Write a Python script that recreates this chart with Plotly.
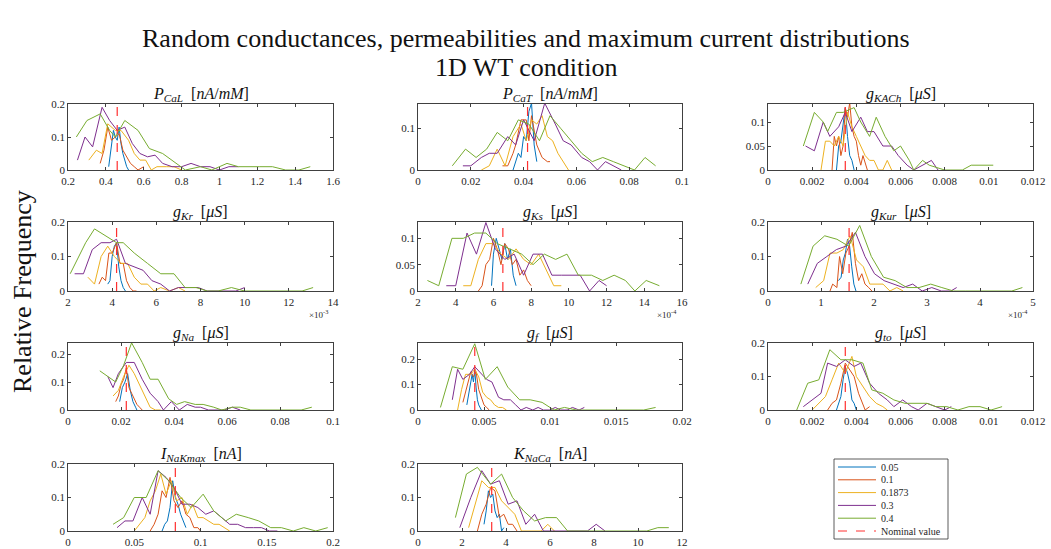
import plotly.graph_objects as go

SERIES = ["0.05", "0.1", "0.1873", "0.3", "0.4"]
COLORS = ["#0072BD", "#D95319", "#EDB120", "#7E2F8E", "#77AC30"]
NOMINAL_COLOR = "#FF3030"
NOMINAL_LABEL = "Nominal value"

TITLES = [
    "<i>P</i><sub><i>CaL</i></sub>  [<i>nA</i>/<i>mM</i>]",
    "<i>P</i><sub><i>CaT</i></sub>  [<i>nA</i>/<i>mM</i>]",
    "<i>g</i><sub><i>KACh</i></sub>  [<i>μS</i>]",
    "<i>g</i><sub><i>Kr</i></sub>  [<i>μS</i>]",
    "<i>g</i><sub><i>Ks</i></sub>  [<i>μS</i>]",
    "<i>g</i><sub><i>Kur</i></sub>  [<i>μS</i>]",
    "<i>g</i><sub><i>Na</i></sub>  [<i>μS</i>]",
    "<i>g</i><sub><i>f</i></sub>  [<i>μS</i>]",
    "<i>g</i><sub><i>to</i></sub>  [<i>μS</i>]",
    "<i>I</i><sub><i>NaKmax</i></sub>  [<i>nA</i>]",
    "<i>K</i><sub><i>NaCa</i></sub>  [<i>nA</i>]",
]
NOMINAL = [0.46, 0.0415, 0.0035, 4.2, 6.5, 1.53, 0.022, 0.0043, 0.0035, 0.081, 3.35]
X_RANGE = [[0.2, 1.6], [0, 0.1], [0, 0.012], [2, 14], [2, 16], [0, 5],
           [0, 0.1], [0, 0.02], [0, 0.012], [0, 0.2], [0, 12]]
X_DTICK = [0.2, 0.02, 0.002, 2, 2, 1, 0.02, 0.005, 0.002, 0.05, 2]
Y_MAX = [0.2, 0.158, 0.1375, 0.2, 0.131, 0.2, 0.2395, 0.263, 0.2, 0.2, 0.2]
Y_DTICK = [0.1, 0.1, 0.05, 0.1, 0.05, 0.1, 0.1, 0.1, 0.1, 0.1, 0.1]
EXPONENT = [None, None, None, "-3", "-4", "-4", None, None, None, None, None]

# ---- P_CaL
PCAL_X = [
    [0.415, 0.43, 0.44, 0.45, 0.46, 0.47, 0.48, 0.49, 0.50, 0.51, 0.52],
    [0.37, 0.39, 0.41, 0.43, 0.45, 0.47, 0.49, 0.51, 0.53, 0.55, 0.57, 0.60],
    [0.31, 0.35, 0.38, 0.41, 0.45, 0.48, 0.52, 0.55, 0.58, 0.61, 0.64, 0.67, 0.72, 0.76, 0.80],
    [0.25, 0.29, 0.33, 0.38, 0.42, 0.46, 0.50, 0.54, 0.58, 0.62, 0.66, 0.70, 0.75, 0.80, 0.85, 0.90, 0.95, 1.0, 1.05, 1.10],
    [0.244, 0.30, 0.37, 0.42, 0.45, 0.50, 0.57, 0.63, 0.70, 0.77, 0.82, 0.90, 0.96, 1.04, 1.10, 1.21, 1.28, 1.35, 1.42, 1.48],
]
PCAL_Y = [
    [0.01, 0.08, 0.12, 0.10, 0.09, 0.13, 0.08, 0.05, 0.03, 0.01, 0.0],
    [0.02, 0.06, 0.13, 0.09, 0.10, 0.11, 0.06, 0.04, 0.02, 0.01, 0.0, 0.01],
    [0.03, 0.06, 0.05, 0.14, 0.12, 0.12, 0.09, 0.05, 0.03, 0.03, 0.0, 0.01, 0.01, 0.01, 0.0],
    [0.03, 0.10, 0.07, 0.19, 0.15, 0.12, 0.13, 0.08, 0.05, 0.04, 0.045, 0.02, 0.01, 0.01, 0.02, 0.01, 0.01, 0.0, 0.01, 0.01],
    [0.10, 0.15, 0.17, 0.12, 0.10, 0.15, 0.12, 0.065, 0.05, 0.02, 0.0, 0.01, 0.0, 0.02, 0.01, 0.01, 0.01, 0.0, 0.0, 0.01],
]

# ---- P_CaT
PCAT_X = [
    [0.036, 0.037, 0.038, 0.039, 0.040, 0.041, 0.042, 0.043, 0.044, 0.045],
    [0.032, 0.034, 0.036, 0.037, 0.039, 0.041, 0.042, 0.043, 0.045, 0.047, 0.049, 0.050],
    [0.024, 0.027, 0.030, 0.033, 0.036, 0.039, 0.041, 0.043, 0.045, 0.047, 0.049, 0.051, 0.053, 0.055, 0.057],
    [0.017, 0.020, 0.024, 0.027, 0.030, 0.034, 0.037, 0.040, 0.044, 0.048, 0.052, 0.055, 0.058, 0.062, 0.065, 0.068, 0.071, 0.074, 0.077],
    [0.013, 0.018, 0.022, 0.026, 0.030, 0.034, 0.038, 0.042, 0.046, 0.050, 0.054, 0.058, 0.062, 0.066, 0.070, 0.074, 0.078, 0.082, 0.086, 0.090],
]
PCAT_Y = [
    [0.0, 0.02, 0.04, 0.03, 0.08, 0.07, 0.14, 0.16, 0.06, 0.02],
    [0.01, 0.01, 0.04, 0.06, 0.12, 0.12, 0.07, 0.13, 0.06, 0.03, 0.02, 0.02],
    [0.0, 0.01, 0.05, 0.01, 0.08, 0.11, 0.07, 0.12, 0.11, 0.13, 0.08, 0.07, 0.04, 0.02, 0.0],
    [0.01, 0.01, 0.03, 0.04, 0.04, 0.08, 0.06, 0.12, 0.07, 0.16, 0.11, 0.07, 0.06, 0.03, 0.02, 0.0, 0.02, 0.01, 0.0],
    [0.01, 0.05, 0.03, 0.05, 0.09, 0.07, 0.12, 0.11, 0.07, 0.13, 0.10, 0.07, 0.04, 0.02, 0.03, 0.02, 0.01, 0.0, 0.03, 0.01],
]

# ---- g_KACh
GKACH_X = [
    [0.0031, 0.0032, 0.0033, 0.0034, 0.0035, 0.0036, 0.0037, 0.0038, 0.0039],
    [0.0029, 0.0030, 0.0031, 0.0032, 0.0033, 0.0034, 0.0035, 0.0036, 0.0037, 0.0038, 0.0039, 0.0040, 0.0041, 0.0042, 0.0043, 0.0045],
    [0.0024, 0.0026, 0.0028, 0.0030, 0.0032, 0.0034, 0.0036, 0.0038, 0.0040, 0.0042, 0.0044, 0.0046, 0.0048, 0.0050, 0.0052, 0.0054, 0.0056],
    [0.0017, 0.0021, 0.0025, 0.0028, 0.0032, 0.0035, 0.0038, 0.0042, 0.0045, 0.0048, 0.0052, 0.0056, 0.0059, 0.0063, 0.0066, 0.0070, 0.0074, 0.0077],
    [0.0016, 0.0021, 0.0025, 0.0027, 0.0031, 0.0034, 0.0039, 0.0042, 0.0046, 0.0049, 0.0053, 0.0057, 0.0060, 0.0064, 0.0066, 0.0070, 0.0073, 0.0080, 0.0088, 0.0092, 0.0102],
]
GKACH_Y = [
    [0.0, 0.05, 0.06, 0.09, 0.13, 0.07, 0.03, 0.02, 0.0],
    [0.0, 0.07, 0.05, 0.07, 0.03, 0.05, 0.13, 0.11, 0.14, 0.09, 0.07, 0.06, 0.03, 0.01, 0.03, 0.0],
    [0.0, 0.06, 0.06, 0.05, 0.07, 0.05, 0.12, 0.09, 0.07, 0.05, 0.03, 0.02, 0.02, 0.0, 0.0, 0.02, 0.0],
    [0.05, 0.04, 0.10, 0.07, 0.09, 0.12, 0.08, 0.11, 0.08, 0.08, 0.05, 0.05, 0.03, 0.01, 0.0, 0.01, 0.02, 0.0],
    [0.05, 0.12, 0.10, 0.08, 0.12, 0.12, 0.13, 0.10, 0.07, 0.11, 0.07, 0.04, 0.05, 0.02, 0.0, 0.02, 0.01, 0.0, 0.0, 0.01, 0.01],
]

# ---- g_Kr (x 1e-3)
GKR_X = [
    [3.8, 3.9, 4.0, 4.1, 4.2, 4.3, 4.4, 4.5, 4.6],
    [3.4, 3.55, 3.7, 3.85, 4.0, 4.2, 4.35, 4.5, 4.65, 4.8, 4.95, 5.1],
    [2.9, 3.2, 3.5, 3.8, 4.1, 4.4, 4.7, 5.0, 5.3, 5.6, 5.9, 6.2, 6.6, 7.0, 7.3],
    [2.3, 2.7, 3.1, 3.5, 3.9, 4.2, 4.6, 5.0, 5.4, 5.8, 6.2, 6.6, 7.0, 7.4, 7.9, 8.3, 8.8, 9.2, 9.6, 10.0],
    [2.1, 2.8, 3.2, 3.7, 4.2, 4.5, 5.0, 5.6, 6.2, 6.8, 7.3, 7.8, 8.3, 8.8, 9.4, 10.0, 10.5, 11.0, 11.6, 12.2, 12.6, 13.1],
]
GKR_Y = [
    [0.02, 0.03, 0.10, 0.13, 0.14, 0.07, 0.03, 0.01, 0.0],
    [0.02, 0.04, 0.03, 0.11, 0.11, 0.14, 0.08, 0.08, 0.03, 0.01, 0.0, 0.0],
    [0.04, 0.02, 0.10, 0.13, 0.10, 0.08, 0.08, 0.04, 0.02, 0.02, 0.0, 0.01, 0.0, 0.01, 0.0],
    [0.05, 0.05, 0.12, 0.14, 0.14, 0.15, 0.08, 0.07, 0.06, 0.03, 0.02, 0.0, 0.01, 0.01, 0.01, 0.0, 0.0, 0.0, 0.0, 0.01],
    [0.05, 0.14, 0.18, 0.16, 0.14, 0.14, 0.11, 0.08, 0.05, 0.05, 0.01, 0.01, 0.0, 0.0, 0.01, 0.0, 0.0, 0.0, 0.0, 0.0, 0.0, 0.01],
]

# ---- g_Ks (x 1e-4)
GKS_X = [
    [5.9, 6.0, 6.15, 6.3, 6.45, 6.6, 6.75, 6.9, 7.05, 7.2],
    [5.2, 5.4, 5.6, 5.8, 6.0, 6.2, 6.4, 6.6, 6.8, 7.0, 7.2, 7.4, 7.6, 7.8, 8.0],
    [4.4, 4.8, 5.2, 5.6, 6.0, 6.4, 6.8, 7.2, 7.6, 8.0, 8.4, 8.8, 9.2, 9.6],
    [3.5, 4.0, 4.6, 5.1, 5.6, 6.1, 6.6, 7.1, 7.6, 8.1, 8.6, 9.1, 9.6, 10.1, 10.6, 11.1, 11.6, 12.0],
    [2.5, 3.1, 3.8, 4.4, 5.0, 5.6, 6.2, 6.9, 7.5, 8.1, 8.7, 9.3, 9.9, 10.5, 11.2, 11.8, 12.4, 13.0, 13.5, 14.1, 14.8],
]
GKS_Y = [
    [0.01, 0.07, 0.10, 0.08, 0.06, 0.09, 0.06, 0.08, 0.03, 0.01],
    [0.0, 0.01, 0.05, 0.06, 0.10, 0.08, 0.05, 0.09, 0.08, 0.05, 0.06, 0.03, 0.04, 0.02, 0.01],
    [0.01, 0.01, 0.06, 0.09, 0.09, 0.07, 0.06, 0.08, 0.06, 0.05, 0.07, 0.04, 0.01, 0.01],
    [0.01, 0.01, 0.11, 0.07, 0.13, 0.08, 0.06, 0.07, 0.03, 0.07, 0.07, 0.03, 0.03, 0.03, 0.03, 0.0, 0.02, 0.01],
    [0.02, 0.01, 0.10, 0.10, 0.11, 0.11, 0.09, 0.08, 0.07, 0.05, 0.07, 0.06, 0.07, 0.03, 0.03, 0.02, 0.03, 0.02, 0.0, 0.02, 0.01],
]

# ---- g_Kur (x 1e-4)
GKUR_X = [
    [1.33, 1.38, 1.42, 1.46, 1.50, 1.54, 1.58, 1.62, 1.66],
    [1.17, 1.22, 1.30, 1.35, 1.41, 1.47, 1.53, 1.59, 1.65, 1.71, 1.77, 1.83, 1.90, 1.96],
    [0.90, 1.05, 1.17, 1.30, 1.42, 1.55, 1.67, 1.80, 1.92, 2.05, 2.17, 2.30, 2.43, 2.55],
    [0.75, 0.93, 1.11, 1.29, 1.47, 1.65, 1.83, 2.01, 2.19, 2.37, 2.55, 2.73, 2.91, 3.09, 3.27, 3.45, 3.56],
    [0.62, 0.85, 1.07, 1.30, 1.52, 1.73, 1.95, 2.18, 2.40, 2.62, 2.85, 3.07, 3.28, 3.50, 3.72, 3.95, 4.15, 4.38, 4.60, 4.80],
]
GKUR_Y = [
    [0.03, 0.04, 0.09, 0.11, 0.15, 0.13, 0.07, 0.02, 0.0],
    [0.0, 0.02, 0.01, 0.10, 0.05, 0.11, 0.13, 0.17, 0.08, 0.03, 0.05, 0.02, 0.01, 0.0],
    [0.01, 0.03, 0.11, 0.11, 0.12, 0.16, 0.09, 0.07, 0.02, 0.02, 0.02, 0.0, 0.01, 0.0],
    [0.02, 0.08, 0.10, 0.12, 0.13, 0.17, 0.10, 0.05, 0.03, 0.02, 0.01, 0.02, 0.0, 0.01, 0.0, 0.0, 0.01],
    [0.02, 0.13, 0.16, 0.15, 0.13, 0.19, 0.10, 0.04, 0.03, 0.01, 0.01, 0.02, 0.01, 0.0, 0.0, 0.0, 0.0, 0.0, 0.0, 0.01],
]

# ---- g_Na
GNA_X = [
    [0.0195, 0.0205, 0.0215, 0.0225, 0.0235, 0.0245, 0.0255, 0.026],
    [0.018, 0.019, 0.020, 0.021, 0.022, 0.023, 0.024, 0.025, 0.026, 0.027, 0.028],
    [0.017, 0.019, 0.021, 0.023, 0.025, 0.027, 0.029, 0.031, 0.033, 0.035],
    [0.015, 0.017, 0.019, 0.022, 0.025, 0.028, 0.031, 0.034, 0.036, 0.039, 0.042, 0.045, 0.048, 0.050, 0.053, 0.056, 0.059, 0.062, 0.065],
    [0.012, 0.015, 0.018, 0.021, 0.024, 0.028, 0.031, 0.034, 0.038, 0.041, 0.044, 0.048, 0.051, 0.055, 0.058, 0.062, 0.065, 0.069, 0.075, 0.081, 0.088, 0.092],
]
GNA_Y = [
    [0.03, 0.08, 0.10, 0.13, 0.07, 0.03, 0.01, 0.0],
    [0.03, 0.05, 0.09, 0.11, 0.15, 0.08, 0.06, 0.04, 0.02, 0.01, 0.0],
    [0.05, 0.07, 0.12, 0.16, 0.13, 0.09, 0.05, 0.01, 0.0, 0.0],
    [0.12, 0.08, 0.13, 0.17, 0.17, 0.11, 0.06, 0.03, 0.0, 0.03, 0.0, 0.02, 0.01, 0.01, 0.0, 0.0, 0.0, 0.01, 0.0],
    [0.14, 0.12, 0.10, 0.16, 0.24, 0.17, 0.11, 0.11, 0.04, 0.02, 0.03, 0.02, 0.02, 0.01, 0.0, 0.01, 0.01, 0.0, 0.0, 0.0, 0.0, 0.01],
]

# ---- g_f
GF_X = [
    [0.0037, 0.0039, 0.0040, 0.0041, 0.0042, 0.0043, 0.0044, 0.0045, 0.0046, 0.0048],
    [0.0034, 0.0036, 0.0038, 0.0040, 0.0042, 0.0044, 0.0046, 0.0048, 0.0050, 0.0052, 0.0054],
    [0.0030, 0.0033, 0.0036, 0.0040, 0.0043, 0.0046, 0.0049, 0.0052, 0.0055, 0.0058, 0.0061, 0.0064, 0.0067],
    [0.0026, 0.0030, 0.0034, 0.0039, 0.0043, 0.0048, 0.0052, 0.0056, 0.0061, 0.0065, 0.0070, 0.0074, 0.0078, 0.0082, 0.0087, 0.0091, 0.0095, 0.0100, 0.0104, 0.0108, 0.0113, 0.0117, 0.0122, 0.0126],
    [0.0017, 0.0026, 0.0034, 0.0043, 0.0051, 0.0060, 0.0068, 0.0077, 0.0085, 0.0094, 0.0103, 0.0111, 0.0120, 0.0128, 0.0137, 0.0145, 0.0154, 0.0162, 0.0171, 0.0180],
]
GF_Y = [
    [0.02, 0.08, 0.12, 0.14, 0.11, 0.16, 0.09, 0.04, 0.02, 0.0],
    [0.03, 0.07, 0.12, 0.15, 0.13, 0.15, 0.08, 0.05, 0.02, 0.01, 0.0],
    [0.0, 0.08, 0.14, 0.14, 0.16, 0.13, 0.07, 0.05, 0.04, 0.02, 0.01, 0.01, 0.0],
    [0.04, 0.16, 0.12, 0.14, 0.17, 0.14, 0.12, 0.11, 0.05, 0.04, 0.04, 0.02, 0.0, 0.01, 0.0, 0.01, 0.0, 0.0, 0.01, 0.0, 0.0, 0.01, 0.0, 0.01],
    [0.01, 0.17, 0.16, 0.26, 0.12, 0.17, 0.09, 0.04, 0.04, 0.03, 0.0, 0.01, 0.0, 0.0, 0.0, 0.0, 0.0, 0.0, 0.0, 0.01],
]

# ---- g_to
GTO_X = [
    [0.0031, 0.0033, 0.0034, 0.0035, 0.0036, 0.0037, 0.0038, 0.0039, 0.0040],
    [0.0027, 0.0029, 0.0031, 0.0033, 0.0035, 0.0037, 0.0039, 0.0041, 0.0043, 0.0044, 0.0046],
    [0.0020, 0.0023, 0.0026, 0.0029, 0.0032, 0.0035, 0.0038, 0.0040, 0.0043, 0.0046, 0.0049, 0.0052, 0.0054],
    [0.0016, 0.0020, 0.0024, 0.0027, 0.0031, 0.0035, 0.0039, 0.0042, 0.0046, 0.0050, 0.0054, 0.0057, 0.0061, 0.0065, 0.0068, 0.0072, 0.0076, 0.0080, 0.0083],
    [0.0013, 0.0018, 0.0023, 0.0028, 0.0033, 0.0038, 0.0043, 0.0047, 0.0052, 0.0057, 0.0062, 0.0067, 0.0072, 0.0076, 0.0081, 0.0086, 0.0091, 0.0096, 0.0101, 0.0106],
]
GTO_Y = [
    [0.0, 0.04, 0.09, 0.13, 0.11, 0.08, 0.03, 0.02, 0.0],
    [0.0, 0.02, 0.03, 0.08, 0.14, 0.12, 0.10, 0.05, 0.02, 0.0, 0.01],
    [0.0, 0.02, 0.04, 0.09, 0.14, 0.11, 0.16, 0.10, 0.07, 0.04, 0.02, 0.01, 0.0],
    [0.01, 0.03, 0.05, 0.14, 0.13, 0.15, 0.13, 0.14, 0.08, 0.05, 0.03, 0.01, 0.03, 0.01, 0.0, 0.02, 0.01, 0.0, 0.01],
    [0.0, 0.08, 0.09, 0.18, 0.15, 0.15, 0.14, 0.06, 0.05, 0.03, 0.02, 0.02, 0.02, 0.01, 0.01, 0.0, 0.01, 0.01, 0.0, 0.01],
]

# ---- I_NaKmax
INAK_X = [
    [0.071, 0.073, 0.075, 0.077, 0.079, 0.081, 0.083, 0.085, 0.087, 0.089],
    [0.062, 0.065, 0.068, 0.071, 0.074, 0.077, 0.080, 0.083, 0.086, 0.089, 0.092, 0.095, 0.098, 0.100],
    [0.050, 0.054, 0.058, 0.062, 0.066, 0.070, 0.074, 0.078, 0.082, 0.086, 0.090, 0.094, 0.098, 0.102, 0.106, 0.110, 0.114, 0.118, 0.122],
    [0.037, 0.043, 0.049, 0.056, 0.062, 0.068, 0.074, 0.080, 0.086, 0.092, 0.098, 0.104, 0.110, 0.116, 0.122, 0.128, 0.134, 0.140, 0.146, 0.152, 0.158],
    [0.034, 0.042, 0.050, 0.059, 0.068, 0.076, 0.085, 0.093, 0.102, 0.110, 0.119, 0.127, 0.136, 0.144, 0.153, 0.161, 0.170, 0.178, 0.187, 0.196],
]
INAK_Y = [
    [0.0, 0.02, 0.03, 0.07, 0.15, 0.10, 0.08, 0.05, 0.03, 0.01],
    [0.0, 0.02, 0.05, 0.12, 0.10, 0.16, 0.09, 0.07, 0.09, 0.05, 0.04, 0.01, 0.01, 0.0],
    [0.0, 0.02, 0.04, 0.09, 0.12, 0.17, 0.11, 0.15, 0.09, 0.10, 0.05, 0.08, 0.04, 0.04, 0.03, 0.02, 0.02, 0.01, 0.0],
    [0.01, 0.03, 0.03, 0.10, 0.05, 0.18, 0.16, 0.13, 0.08, 0.08, 0.07, 0.05, 0.06, 0.04, 0.02, 0.02, 0.01, 0.01, 0.01, 0.0, 0.0],
    [0.02, 0.04, 0.10, 0.10, 0.18, 0.15, 0.10, 0.07, 0.11, 0.06, 0.03, 0.05, 0.04, 0.03, 0.01, 0.01, 0.0, 0.01, 0.0, 0.01],
]

# ---- K_NaCa
KNACA_X = [
    [3.0, 3.1, 3.2, 3.3, 3.4, 3.5, 3.6, 3.7, 3.8, 3.9],
    [2.7, 2.9, 3.1, 3.3, 3.5, 3.7, 3.9, 4.1, 4.3, 4.5],
    [2.3, 2.6, 2.9, 3.2, 3.5, 3.8, 4.1, 4.4, 4.7, 5.0, 5.3, 5.6, 5.9, 6.2],
    [1.9, 2.4, 2.9, 3.3, 3.7, 4.1, 4.5, 4.9, 5.3, 5.7, 6.1, 6.5, 6.9, 7.3, 7.7, 8.1, 8.5],
    [1.7, 2.2, 2.7, 3.3, 3.8, 4.3, 4.8, 5.3, 5.8, 6.3, 6.8, 7.3, 7.8, 8.3, 8.8, 9.4, 9.9, 10.4, 10.9, 11.4],
]
KNACA_Y = [
    [0.02, 0.06, 0.12, 0.10, 0.11, 0.06, 0.04, 0.05, 0.0, 0.01],
    [0.0, 0.05, 0.08, 0.13, 0.12, 0.04, 0.05, 0.02, 0.02, 0.0],
    [0.01, 0.08, 0.15, 0.13, 0.13, 0.09, 0.07, 0.05, 0.0, 0.0, 0.0, 0.0, 0.02, 0.0],
    [0.01, 0.10, 0.18, 0.14, 0.15, 0.08, 0.09, 0.02, 0.05, 0.0, 0.0, 0.0, 0.0, 0.0, 0.0, 0.02, 0.0],
    [0.04, 0.17, 0.19, 0.14, 0.17, 0.10, 0.06, 0.03, 0.04, 0.04, 0.0, 0.0, 0.0, 0.0, 0.0, 0.0, 0.0, 0.0, 0.01, 0.01],
]

ALL_X = [PCAL_X, PCAT_X, GKACH_X, GKR_X, GKS_X, GKUR_X, GNA_X, GF_X, GTO_X, INAK_X, KNACA_X]
ALL_Y = [PCAL_Y, PCAT_Y, GKACH_Y, GKR_Y, GKS_Y, GKUR_Y, GNA_Y, GF_Y, GTO_Y, INAK_Y, KNACA_Y]

W, H = 1051, 549
COL_PX = [(68, 333), (418, 682), (768, 1033)]
ROW_PX = [(104, 170), (222, 291), (343, 410), (464, 531)]

SERIF = "Liberation Serif"
AXC = "#404040"

fig = go.Figure()
layout = {}
for i in range(11):
    r, c = divmod(i, 3)
    n = "" if i == 0 else str(i + 1)
    x0, x1 = COL_PX[c]
    t, b = ROW_PX[r]
    layout["xaxis" + n] = dict(
        domain=[x0 / W, x1 / W], range=X_RANGE[i], dtick=X_DTICK[i], tick0=X_RANGE[i][0],
        anchor="y" + n, showline=True, linecolor=AXC, linewidth=0.8, mirror="allticks",
        ticks="inside", ticklen=3, tickcolor=AXC, tickwidth=0.8, showgrid=False, zeroline=False,
        tickfont=dict(family=SERIF, size=11, color="#262626"), ticklabelstandoff=1,
    )
    layout["yaxis" + n] = dict(
        domain=[1 - b / H, 1 - t / H], range=[0, Y_MAX[i]], dtick=Y_DTICK[i], tick0=0,
        anchor="x" + n, showline=True, linecolor=AXC, linewidth=0.8, mirror="allticks",
        ticks="inside", ticklen=3, tickcolor=AXC, tickwidth=0.8, showgrid=False, zeroline=False,
        tickfont=dict(family=SERIF, size=11, color="#262626"),
    )
    xs, ys = ALL_X[i], ALL_Y[i]
    for k in range(5):
        fig.add_trace(go.Scatter(
            x=xs[k], y=ys[k], mode="lines", name=SERIES[k],
            line=dict(color=COLORS[k], width=1), xaxis="x" + n, yaxis="y" + n,
            showlegend=False,
        ))
    fig.add_trace(go.Scatter(
        x=[NOMINAL[i], NOMINAL[i]], y=[0, Y_MAX[i]], mode="lines", name=NOMINAL_LABEL,
        line=dict(color=NOMINAL_COLOR, width=1.2, dash="dash"), xaxis="x" + n, yaxis="y" + n,
        showlegend=False,
    ))

annotations = []
shapes = []
for i in range(11):
    r, c = divmod(i, 3)
    x0, x1 = COL_PX[c]
    t, b = ROW_PX[r]
    annotations.append(dict(
        text=TITLES[i], x=(x0 + x1) / 2 / W, y=1 - (t + 1) / H, xref="paper", yref="paper",
        xanchor="center", yanchor="bottom", showarrow=False, borderpad=0,
        font=dict(family=SERIF, size=16, color="#111"),
    ))
    if EXPONENT[i]:
        annotations.append(dict(
            text="×10<sup>" + EXPONENT[i] + "</sup>", x=(x1 - 3) / W, y=1 - (b + 15) / H,
            xref="paper", yref="paper", xanchor="right", yanchor="top", showarrow=False,
            font=dict(family=SERIF, size=9, color="#262626"),
        ))
annotations.append(dict(
    text="Random conductances, permeabilities and maximum current distributions",
    x=0.5, y=1 - 39 / H, xref="paper", yref="paper", xanchor="center", yanchor="middle",
    showarrow=False, borderpad=0, font=dict(family=SERIF, size=26, color="#111"),
))
annotations.append(dict(
    text="1D WT condition",
    x=0.5, y=1 - 67 / H, xref="paper", yref="paper", xanchor="center", yanchor="middle",
    showarrow=False, borderpad=0, font=dict(family=SERIF, size=26, color="#111"),
))
annotations.append(dict(
    text="Relative Frequency", x=22 / W, y=1 - 292 / H, xref="paper", yref="paper",
    xanchor="center", yanchor="middle", textangle=-90, showarrow=False,
    font=dict(family=SERIF, size=26, color="#111"),
))

# legend box (drawn in paper coordinates)
LEG_L, LEG_T, LEG_R, LEG_B = 834, 459, 948, 539
shapes.append(dict(type="rect", xref="paper", yref="paper",
                   x0=LEG_L / W, x1=LEG_R / W, y0=1 - LEG_B / H, y1=1 - LEG_T / H,
                   line=dict(color="#333", width=0.8), fillcolor="white", layer="above"))
leg_labels = SERIES + [NOMINAL_LABEL]
leg_colors = COLORS + [NOMINAL_COLOR]
for k, (lab, col) in enumerate(zip(leg_labels, leg_colors)):
    yy = 1 - (467 + k * 12.8) / H
    shapes.append(dict(type="line", xref="paper", yref="paper",
                       x0=838 / W, x1=876 / W, y0=yy, y1=yy, layer="above",
                       line=dict(color=col, width=1, dash="dash" if k == 5 else "solid")))
    annotations.append(dict(text=lab, x=879 / W, y=yy, xref="paper", yref="paper",
                            xanchor="left", yanchor="middle", showarrow=False,
                            font=dict(family=SERIF, size=10, color="#262626")))

layout.update(
    width=W, height=H, margin=dict(l=0, r=0, t=0, b=0, autoexpand=False),
    paper_bgcolor="white", plot_bgcolor="white",
    annotations=annotations, shapes=shapes,
    showlegend=False,
)
fig.update_layout(**layout)
fig.write_html("out.html")
